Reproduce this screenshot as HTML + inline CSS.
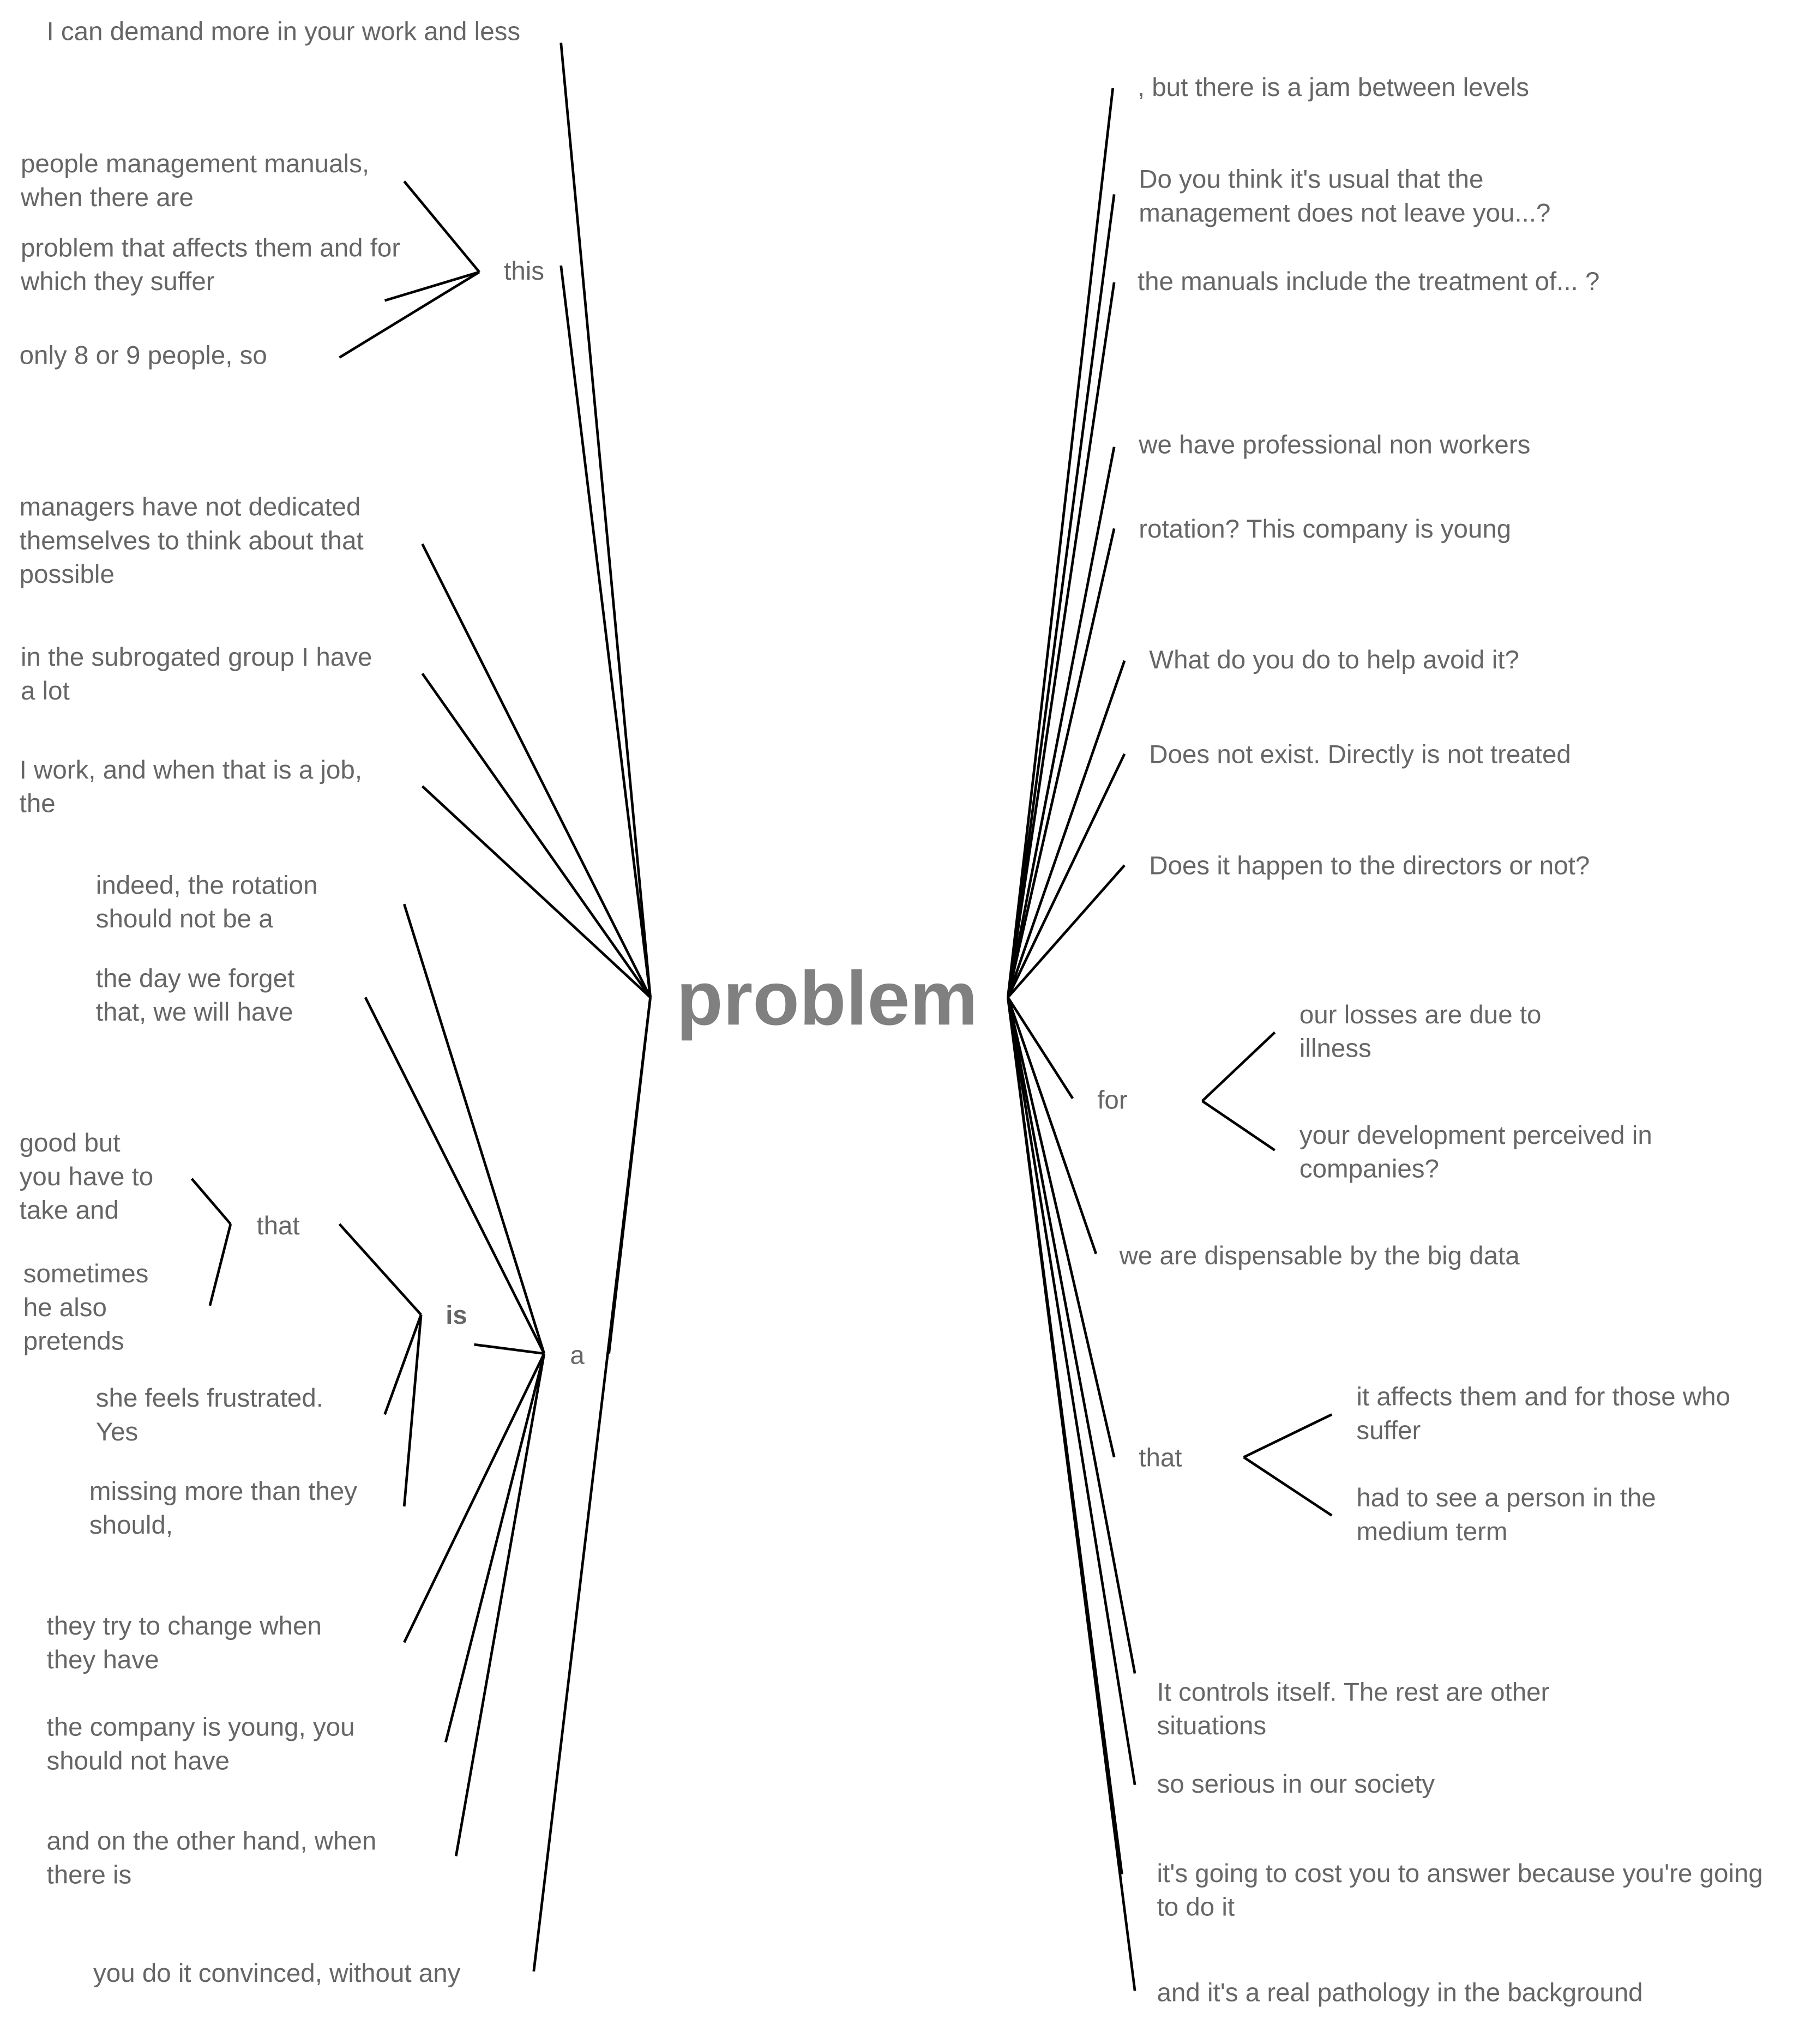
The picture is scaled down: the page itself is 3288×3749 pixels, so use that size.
<!DOCTYPE html>
<html><head><meta charset="utf-8"><style>
html,body{margin:0;padding:0;background:#fff;}
svg{display:block;}
text{font-family:"Liberation Sans",sans-serif;font-size:20px;fill:#666;}
</style></head><body>
<svg width="3288" height="3749" viewBox="0 0 1384 1578" xmlns="http://www.w3.org/2000/svg">
<g stroke="#000" stroke-width="2" fill="none">
<line x1="502" y1="770" x2="433" y2="33"/>
<line x1="502" y1="770" x2="433" y2="205"/>
<line x1="502" y1="770" x2="326" y2="420"/>
<line x1="502" y1="770" x2="326" y2="520"/>
<line x1="502" y1="770" x2="326" y2="607"/>
<line x1="502" y1="770" x2="412" y2="1522"/>
<line x1="502" y1="770" x2="470" y2="1045"/>
<line x1="420" y1="1045" x2="312" y2="698"/>
<line x1="420" y1="1045" x2="282" y2="770"/>
<line x1="420" y1="1045" x2="366" y2="1038"/>
<line x1="420" y1="1045" x2="312" y2="1268"/>
<line x1="420" y1="1045" x2="344" y2="1345"/>
<line x1="420" y1="1045" x2="352" y2="1433"/>
<line x1="325" y1="1015" x2="262" y2="945"/>
<line x1="325" y1="1015" x2="297" y2="1092"/>
<line x1="325" y1="1015" x2="312" y2="1163"/>
<line x1="178" y1="945" x2="148" y2="910"/>
<line x1="178" y1="945" x2="162" y2="1008"/>
<line x1="370" y1="210" x2="312" y2="140"/>
<line x1="370" y1="210" x2="297" y2="232"/>
<line x1="370" y1="210" x2="262" y2="276"/>
<line x1="778" y1="770" x2="859" y2="68"/>
<line x1="778" y1="770" x2="860" y2="150"/>
<line x1="778" y1="770" x2="860" y2="218"/>
<line x1="778" y1="770" x2="860" y2="345"/>
<line x1="778" y1="770" x2="860" y2="408"/>
<line x1="778" y1="770" x2="868" y2="510"/>
<line x1="778" y1="770" x2="868" y2="582"/>
<line x1="778" y1="770" x2="868" y2="668"/>
<line x1="778" y1="770" x2="828" y2="848"/>
<line x1="778" y1="770" x2="846" y2="968"/>
<line x1="778" y1="770" x2="860" y2="1125"/>
<line x1="778" y1="770" x2="876" y2="1292"/>
<line x1="778" y1="770" x2="876" y2="1378"/>
<line x1="778" y1="770" x2="866" y2="1447"/>
<line x1="778" y1="770" x2="876" y2="1537"/>
<line x1="928" y1="850" x2="984" y2="797"/>
<line x1="928" y1="850" x2="984" y2="888"/>
<line x1="960" y1="1125" x2="1028" y2="1092"/>
<line x1="960" y1="1125" x2="1028" y2="1170"/>
</g>
<text x="522" y="791" style="font-size:59px;font-weight:bold;fill:#808080">problem</text>
<text x="36" y="31">I can demand more in your work and less</text>
<text x="16" y="133">people management manuals,</text><text x="16" y="159">when there are</text>
<text x="16" y="198">problem that affects them and for</text><text x="16" y="224">which they suffer</text>
<text x="15" y="281">only 8 or 9 people, so</text>
<text x="389" y="216">this</text>
<text x="15" y="398">managers have not dedicated</text><text x="15" y="424">themselves to think about that</text><text x="15" y="450">possible</text>
<text x="16" y="514">in the subrogated group I have</text><text x="16" y="540">a lot</text>
<text x="15" y="601">I work, and when that is a job,</text><text x="15" y="627">the</text>
<text x="74" y="690">indeed, the rotation</text><text x="74" y="716">should not be a</text>
<text x="74" y="762">the day we forget</text><text x="74" y="788">that, we will have</text>
<text x="15" y="889">good but</text><text x="15" y="915">you have to</text><text x="15" y="941">take and</text>
<text x="198" y="953">that</text>
<text x="18" y="990">sometimes</text><text x="18" y="1016">he also</text><text x="18" y="1042">pretends</text>
<text x="344" y="1022" style="font-weight:bold">is</text>
<text x="440" y="1053">a</text>
<text x="74" y="1086">she feels frustrated.</text><text x="74" y="1112">Yes</text>
<text x="69" y="1158">missing more than they</text><text x="69" y="1184">should,</text>
<text x="36" y="1262">they try to change when</text><text x="36" y="1288">they have</text>
<text x="36" y="1340">the company is young, you</text><text x="36" y="1366">should not have</text>
<text x="36" y="1428">and on the other hand, when</text><text x="36" y="1454">there is</text>
<text x="72" y="1530">you do it convinced, without any</text>
<text x="878" y="74">, but there is a jam between levels</text>
<text x="879" y="145">Do you think it's usual that the</text><text x="879" y="171">management does not leave you...?</text>
<text x="878" y="224">the manuals include the treatment of... ?</text>
<text x="879" y="350">we have professional non workers</text>
<text x="879" y="415">rotation? This company is young</text>
<text x="887" y="516">What do you do to help avoid it?</text>
<text x="887" y="589">Does not exist. Directly is not treated</text>
<text x="887" y="675">Does it happen to the directors or not?</text>
<text x="1003" y="790">our losses are due to</text><text x="1003" y="816">illness</text>
<text x="847" y="856">for</text>
<text x="1003" y="883">your development perceived in</text><text x="1003" y="909">companies?</text>
<text x="864" y="976">we are dispensable by the big data</text>
<text x="1047" y="1085">it affects them and for those who</text><text x="1047" y="1111">suffer</text>
<text x="879" y="1132">that</text>
<text x="1047" y="1163">had to see a person in the</text><text x="1047" y="1189">medium term</text>
<text x="893" y="1313">It controls itself. The rest are other</text><text x="893" y="1339">situations</text>
<text x="893" y="1384">so serious in our society</text>
<text x="893" y="1453">it's going to cost you to answer because you're going</text><text x="893" y="1479">to do it</text>
<text x="893" y="1545">and it's a real pathology in the background</text>
</svg>
</body></html>
